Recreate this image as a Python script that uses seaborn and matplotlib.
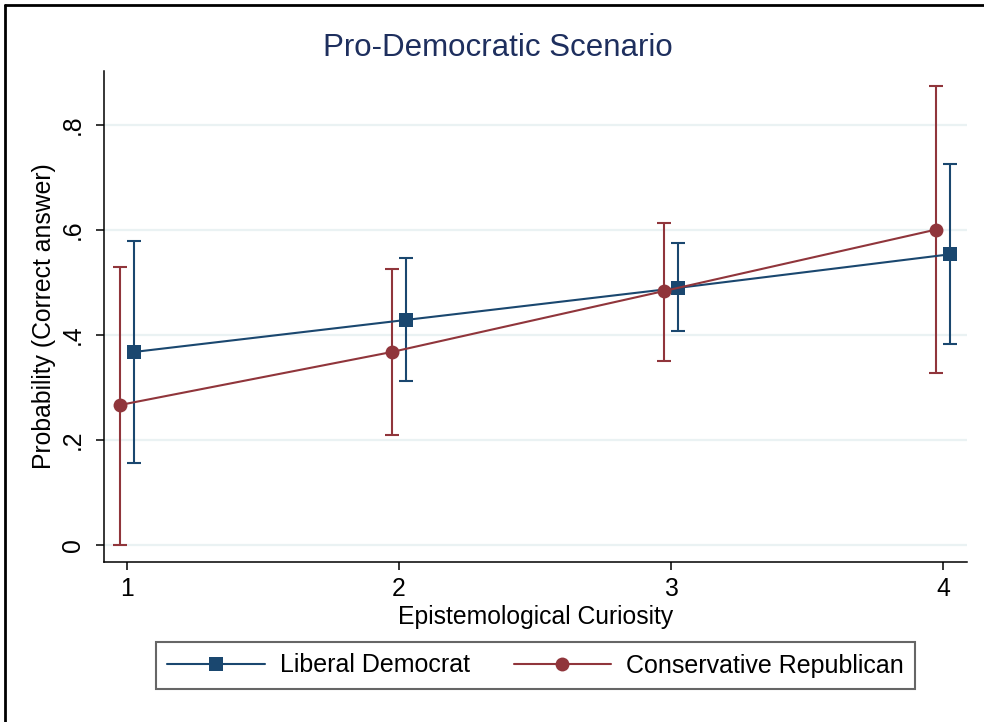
import numpy as np
import pandas as pd
import matplotlib
matplotlib.use("Agg")
import matplotlib.pyplot as plt
import seaborn as sns
from matplotlib.lines import Line2D

# data
curiosity = [1, 2, 3, 4]
groups = ["Liberal Democrat", "Conservative Republican"]
dem_prob = [0.368, 0.429, 0.490, 0.554]
dem_lo = [0.156, 0.312, 0.408, 0.383]
dem_hi = [0.579, 0.547, 0.575, 0.726]
rep_prob = [0.267, 0.368, 0.484, 0.601]
rep_lo = [0.000, 0.210, 0.351, 0.328]
rep_hi = [0.530, 0.526, 0.614, 0.874]
ytick_vals = [0, 0.2, 0.4, 0.6, 0.8]
ytick_labels = ["0", ".2", ".4", ".6", ".8"]

# styling
blue = "#1a476f"
red = "#90353b"
offsets = {"Liberal Democrat": 0.026, "Conservative Republican": -0.026}

sns.set_style("white")
plt.rcParams["font.family"] = ["Liberation Sans", "DejaVu Sans"]
plt.rcParams["text.color"] = "black"
plt.rcParams["axes.labelcolor"] = "black"
plt.rcParams["xtick.color"] = "black"
plt.rcParams["ytick.color"] = "black"

df = pd.DataFrame({
    "curiosity": curiosity * 2,
    "group": [groups[0]] * 4 + [groups[1]] * 4,
    "prob": dem_prob + rep_prob,
    "lo": dem_lo + rep_lo,
    "hi": dem_hi + rep_hi,
})
df["xpos"] = df["curiosity"] + df["group"].map(offsets)

fig = plt.figure(figsize=(9.84, 7.22), dpi=100)
ax = fig.add_axes([104 / 984, 1 - 562 / 722, (967 - 104) / 984, (562 - 71) / 722])

for y in ytick_vals:
    ax.axhline(y, color="#eaf2f3", lw=1.6, zorder=0)

pal = {groups[0]: blue, groups[1]: red}
for g in groups:
    sub = df[df["group"] == g]
    ax.errorbar(sub["xpos"], sub["prob"],
                yerr=[sub["prob"] - sub["lo"], sub["hi"] - sub["prob"]],
                fmt="none", ecolor=pal[g], elinewidth=1.5, capsize=5.2, capthick=1.5, zorder=2)

sns.lineplot(data=df, x="xpos", y="prob", hue="group", style="group",
             hue_order=groups, style_order=groups, palette=pal,
             markers={groups[0]: "s", groups[1]: "o"}, dashes=False,
             markersize=10, markeredgewidth=0, lw=1.5, ax=ax, zorder=3)
handles, labels = ax.get_legend_handles_labels()
ax.get_legend().remove()

ax.set_xlim(0.915, 4.088)
ax.set_ylim(-0.032, 0.903)
ax.set_xticks(curiosity)
ax.set_yticks(ytick_vals)
ax.set_yticklabels(ytick_labels, rotation=90, va="center")
ax.tick_params(axis="both", bottom=True, left=True, labelsize=17.8,
               length=6, width=1.1, color="black", labelcolor="black")
ax.tick_params(axis="y", pad=8)
ax.tick_params(axis="x", pad=5)
for s in ["top", "right"]:
    ax.spines[s].set_visible(False)
for s in ["left", "bottom"]:
    ax.spines[s].set_color("black")
    ax.spines[s].set_linewidth(1.1)

ax.set_xlabel("Epistemological Curiosity", fontsize=17.8, labelpad=3)
ax.set_ylabel("Probability (Correct answer)", fontsize=17.8, labelpad=3)
fig.text(498 / 984, 1 - 48 / 722, "Pro-Democratic Scenario", fontsize=22.5,
         color="#1e2f5e", ha="center", va="center")

leg = fig.legend(handles, labels, loc="center", bbox_to_anchor=(535.5 / 984, 1 - 665.5 / 722),
                 ncol=2, fontsize=18, frameon=True, fancybox=False, edgecolor="#404040",
                 handlelength=3.9, handletextpad=0.6, columnspacing=1.75, borderpad=0.45)
leg.get_frame().set_linewidth(1.5)
for t in leg.get_texts():
    t.set_color("black")

# outer frame (cropped at right and bottom)
fig.add_artist(Line2D([5 / 984, 5 / 984], [-0.01, 1 - 5 / 722], transform=fig.transFigure, color="black", lw=2))
fig.add_artist(Line2D([5 / 984, 1.01], [1 - 5 / 722, 1 - 5 / 722], transform=fig.transFigure, color="black", lw=2))

fig.savefig("out.png", dpi=100)
